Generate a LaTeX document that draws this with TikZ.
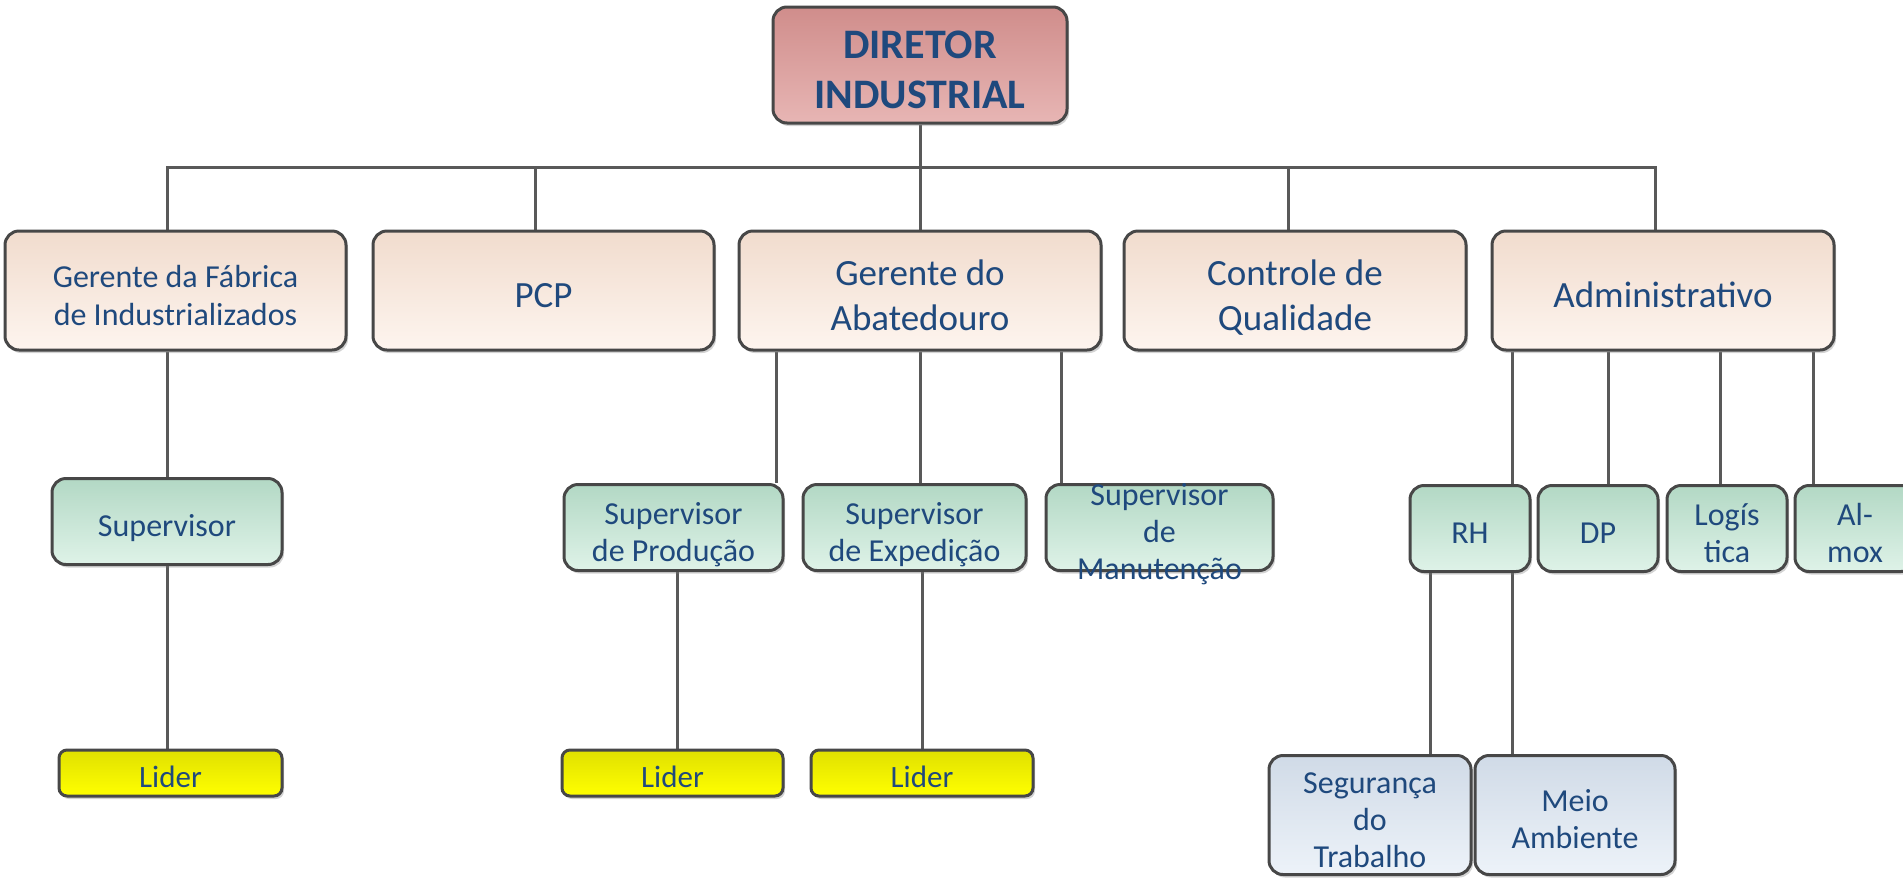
\documentclass[tikz,border=0pt]{standalone}
\usepackage{fontspec}
\setmainfont{Carlito}
\usepackage{xcolor}
\usepackage{tikz}
\usetikzlibrary{positioning, shadows, backgrounds}

\definecolor{textblue}{RGB}{31,73,125}
\definecolor{dirpink}{RGB}{221,150,148}
\definecolor{mgrpeach}{RGB}{251,229,214}
\definecolor{supmint}{RGB}{190,230,209}
\definecolor{lidyellow}{RGB}{255,255,0}
\definecolor{staffblue}{RGB}{219,230,243}
\definecolor{linkgray}{RGB}{89,89,89}

% box text, set a little below the middle
\newcommand{\orgtext}[1]{\raisebox{-8pt}[\height][\depth]{\begin{tabular}{@{}c@{}}#1\end{tabular}}}

\begin{document}
\begin{tikzpicture}[x=1pt, y=-1pt,
    % Styles
    orgbox/.style={
        rectangle,
        rounded corners=14pt,
        draw=black!72,
        line width=3pt,
        inner sep=0pt,
        text=textblue,
        drop shadow={shadow xshift=2pt, shadow yshift=-3pt, opacity=0.35}
    },
    director/.style={orgbox, top color=dirpink!94!black, middle color=dirpink, bottom color=dirpink!70!white,
        font=\fontsize{42}{50}\selectfont\bfseries},
    manager/.style={orgbox, top color=mgrpeach!96!black, middle color=mgrpeach, bottom color=mgrpeach!40!white,
        minimum height=119pt, font=\fontsize{37}{45}\selectfont},
    supbox/.style={orgbox, top color=supmint!94!black, middle color=supmint, bottom color=supmint!50!white,
        minimum height=86pt, font=\fontsize{32}{37}\selectfont},
    lidbox/.style={orgbox, rounded corners=8pt, top color=lidyellow!88!black, bottom color=lidyellow,
        minimum height=46pt, font=\fontsize{31}{34}\selectfont},
    staffbox/.style={orgbox, top color=staffblue!95!black, middle color=staffblue, bottom color=staffblue!50!white,
        minimum height=119pt, font=\fontsize{32}{37}\selectfont},
    lbl/.style={text=textblue, inner sep=0pt, font=\fontsize{32}{37}\selectfont},
    link/.style={draw=linkgray, line width=3pt}
]
\useasboundingbox (0,0) rectangle (1903,879);

% DIRETOR
\node[director, minimum width=294pt, minimum height=116pt] (dir) at (920,65) {\orgtext{DIRETOR\\INDUSTRIAL}};

% Gerencias
\node[manager, minimum width=341pt, font=\fontsize{32}{38}\selectfont] (gfab) at (175.5,290.5) {\orgtext{Gerente da Fábrica\\de Industrializados}};
\node[manager, minimum width=341pt] (pcp) at (543.5,290.5) {\orgtext{PCP}};
\node[manager, minimum width=362pt] (aba) at (920,290.5) {\orgtext{Gerente do\\Abatedouro}};
\node[manager, minimum width=342pt] (cq) at (1295,290.5) {\orgtext{Controle de\\Qualidade}};
\node[manager, minimum width=342pt] (adm) at (1663,290.5) {\orgtext{Administrativo}};

% Supervisores
\node[supbox, minimum width=230pt] (sup) at (167,521.5) {\orgtext{Supervisor}};
\node[supbox, minimum width=219pt] (prod) at (673.5,527.5) {\orgtext{Supervisor\\de Produção}};
\node[supbox, minimum width=223pt] (exped) at (914.5,527.5) {\orgtext{Supervisor\\de Expedição}};
\node[supbox, minimum width=227pt, label={[lbl]center:{\orgtext{Supervisor\\de\\Manutenção}}}] (manut) at (1159.5,527.5) {};

% Administrativo
\node[supbox, minimum width=120pt] (rh) at (1470,528.5) {\orgtext{RH}};
\node[supbox, minimum width=120pt] (dp) at (1598,528.5) {\orgtext{DP}};
\node[supbox, minimum width=120pt] (logi) at (1727,528.5) {\orgtext{Logís\\tica}};
\node[supbox, minimum width=120pt] (almox) at (1855,528.5) {\orgtext{Al-\\mox}};

% Lideres
\node[lidbox, minimum width=223pt] (lid1) at (170.5,773) {\orgtext{Lider}};
\node[lidbox, minimum width=221pt] (lid2) at (672.5,773) {\orgtext{Lider}};
\node[lidbox, minimum width=222pt] (lid3) at (922,773) {\orgtext{Lider}};

% RH
\node[staffbox, minimum width=202pt] (seg) at (1370,815) {\orgtext{Segurança\\do\\Trabalho}};
\node[staffbox, minimum width=200pt] (meio) at (1575,815) {\orgtext{Meio\\Ambiente}};

% Connectors
\begin{scope}[on background layer]
    \coordinate (bus) at (920,167);
    \draw[link] (dir.south) -- (bus);
    \draw[link] (bus) -| (sup.north |- gfab.north);
    \draw[link] (bus) -| ([xshift=-8pt]pcp.north);
    \draw[link] (bus) -- (aba.north);
    \draw[link] (bus) -| ([xshift=-7pt]cq.north);
    \draw[link] (bus) -| ([xshift=-8pt]adm.north);

    \draw[link] (sup.north |- gfab.south) -- (sup.north);
    \draw[link] (sup.south) -- (sup.south |- lid1.north);

    \draw[link] ([xshift=-8pt]prod.north east |- aba.south) -- ([xshift=-8pt]prod.north east);
    \draw[link] (aba.south) -- (aba.south |- exped.north);
    \draw[link] ([xshift=17pt]manut.north west |- aba.south) -- ([xshift=17pt]manut.north west);
    \draw[link] ([xshift=4pt]prod.south) -- ([xshift=4pt]prod.south |- lid2.north);
    \draw[link] (lid3.north |- exped.south) -- (lid3.north);

    \draw[link] ([xshift=-19pt]rh.north east |- adm.south) -- ([xshift=-19pt]rh.north east);
    \draw[link] ([xshift=10pt]dp.north |- adm.south) -- ([xshift=10pt]dp.north);
    \draw[link] ([xshift=-7pt]logi.north |- adm.south) -- ([xshift=-7pt]logi.north);
    \draw[link] ([xshift=20pt]almox.north west |- adm.south) -- ([xshift=20pt]almox.north west);

    \draw[link] ([xshift=22pt]rh.south west) -- ([xshift=22pt]rh.south west |- seg.north);
    \draw[link] ([xshift=-19pt]rh.south east) -- ([xshift=-19pt]rh.south east |- meio.north);
\end{scope}

\end{tikzpicture}
\end{document}
